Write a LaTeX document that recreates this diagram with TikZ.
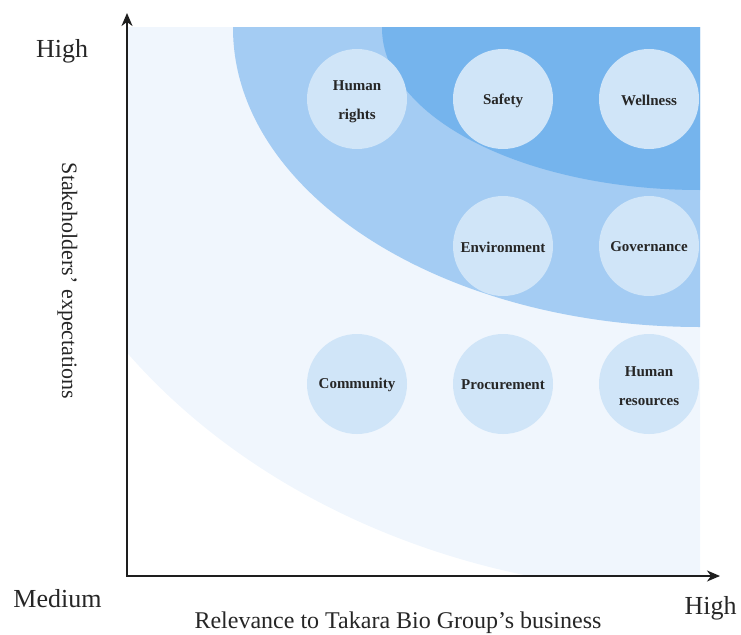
\documentclass[tikz,border=0pt]{standalone}
\usepackage{fontspec}
\setmainfont{Liberation Serif}
\usetikzlibrary{arrows.meta}
\definecolor{lightreg}{RGB}{240,246,253}
\definecolor{midreg}{RGB}{164,204,243}
\definecolor{darkreg}{RGB}{117,180,237}
\definecolor{bubble}{RGB}{208,229,248}
\definecolor{axiscol}{RGB}{30,30,30}
\tikzset{
  bubblenode/.style={circle, fill=bubble, minimum size=100pt, inner sep=0pt,
    align=center, font=\fontsize{15}{29}\selectfont\bfseries, text=black!85},
  bubbletext/.style={align=center, font=\fontsize{15}{29}\selectfont\bfseries, text=black!85},
  axislabel/.style={font=\fontsize{26}{30}\selectfont, anchor=base, text=black!85},
  axistitle/.style={font=\fontsize{24}{28}\selectfont, anchor=base, text=black!85},
  axisline/.style={draw=axiscol, line width=1.6pt,
    arrows={Stealth[length=13pt,width=11pt,inset=4pt]-Stealth[length=13pt,width=11pt,inset=4pt]}}
}
\begin{document}
\begin{tikzpicture}[x=1pt,y=-1pt]
\useasboundingbox (0,0) rectangle (741,634);
% regions
\begin{scope}
  \clip (127,28) rectangle (700,576);
  \fill[lightreg] (700,28) ellipse [x radius=700pt, y radius=565pt];
  \fill[midreg] (700,28) ellipse [x radius=467pt, y radius=299pt];
  \fill[darkreg] (700,28) ellipse [x radius=318pt, y radius=162pt];
\end{scope}
% bubbles
\node[bubblenode] (hr) at (357,99) {};
\node[bubblenode] (sa) at (503,99) {};
\node[bubblenode] (we) at (649,99) {};
\node[bubblenode] (en) at (503,246) {};
\node[bubblenode] (go) at (649,246) {};
\node[bubblenode] (co) at (357,384) {};
\node[bubblenode] (pr) at (503,384) {};
\node[bubblenode] (hu) at (649,384) {};
\node[bubbletext, yshift=-2.5pt] (hrt) at (hr) {Human\\rights};
\node[bubbletext, yshift=-2pt] (sat) at (sa) {Safety};
\node[bubbletext, yshift=-1pt] (wet) at (we) {Wellness};
\node[bubbletext, yshift=-1pt] (ent) at (en) {Environment};
\node[bubbletext, yshift=-1pt] (got) at (go) {Governance};
\node[bubbletext, yshift=-1pt] (cot) at (co) {Community};
\node[bubbletext, yshift=-1pt] (prt) at (pr) {Procurement};
\node[bubbletext, yshift=-2.5pt] (hut) at (hu) {Human\\resources};
% axes
\coordinate (O) at (127,576);
\coordinate (Ytop) at (127,13);
\coordinate (Xend) at (720,576);
\draw[axisline] (Ytop) -- (O) -- (Xend);
% labels
\node[axislabel] (yhigh) at (62,57) {High};
\node[axislabel] (ymed) at (57.5,607) {Medium};
\node[axislabel] (xhigh) at (710.5,614) {High};
\node[axistitle] (xtitle) at (398,628) {Relevance to Takara Bio Group’s business};
\node[axistitle, rotate=-90, font=\fontsize{22}{26}\selectfont] (ytitle) at (62,281) {Stakeholders’ expectations};
\end{tikzpicture}
\end{document}
